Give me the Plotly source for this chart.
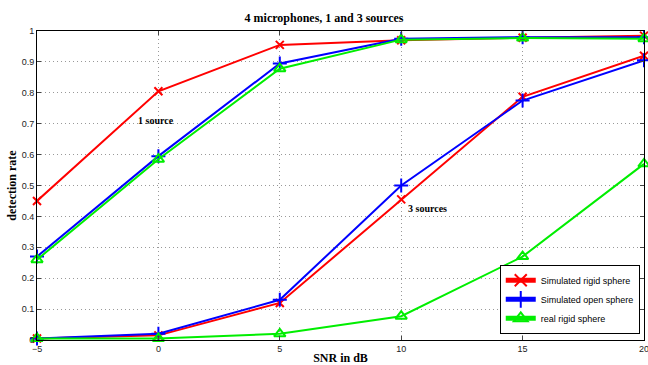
import plotly.graph_objects as go

snr = [-5, 0, 5, 10, 15, 20]
rigid_1src = [0.45, 0.805, 0.955, 0.97, 0.978, 0.985]
rigid_3src = [0.005, 0.015, 0.12, 0.455, 0.787, 0.92]
open_1src = [0.27, 0.595, 0.895, 0.975, 0.98, 0.98]
open_3src = [0.005, 0.02, 0.13, 0.50, 0.775, 0.905]
real_1src = [0.26, 0.585, 0.878, 0.972, 0.977, 0.975]
real_3src = [0.005, 0.005, 0.02, 0.077, 0.27, 0.57]

x_ticks = [-5, 0, 5, 10, 15, 20]
y_ticks = [0, 0.1, 0.2, 0.3, 0.4, 0.5, 0.6, 0.7, 0.8, 0.9, 1]
y_tick_labels = ["0", "0.1", "0.2", "0.3", "0.4", "0.5", "0.6", "0.7", "0.8", "0.9", "1"]

series = [
    ("Simulated rigid sphere", "#ff0000", "x-thin-open", rigid_1src, rigid_3src, 8),
    ("Simulated open sphere", "#0000ff", "cross-thin-open", open_1src, open_3src, 10),
    ("real rigid sphere", "#00ee00", "triangle-up-open", real_1src, real_3src, 10),
]

fig = go.Figure()
for name, color, sym, s1, s3, msize in series:
    for i, ys in enumerate([s1, s3]):
        fig.add_trace(go.Scatter(
            x=snr, y=ys, mode="lines+markers", name=name,
            legendgroup=name, showlegend=(i == 0),
            line=dict(color=color, width=2),
            marker=dict(symbol=sym, size=msize, color=color, line=dict(color=color, width=2)),
            cliponaxis=False,
        ))

serif = "Liberation Serif, Times New Roman, serif"
sans = "Liberation Sans, Arial, sans-serif"

fig.add_annotation(x=-0.1, y=0.71, text="<b>1 source</b>", showarrow=False,
                   font=dict(family=serif, size=10, color="black"))
fig.add_annotation(x=11.1, y=0.425, text="<b>3 sources</b>", showarrow=False,
                   font=dict(family=serif, size=10, color="black"))

fig.update_layout(
    width=648, height=365,
    margin=dict(l=37, r=4, t=31, b=25),
    paper_bgcolor="white", plot_bgcolor="white",
    title=dict(text="<b>4 microphones, 1 and 3 sources</b>", x=0.5, xanchor="center",
               y=1 - 18 / 365, yanchor="middle",
               font=dict(family=serif, size=12, color="black")),
    showlegend=True,
    legend=dict(x=0.993, y=0.02, xanchor="right", yanchor="bottom",
                bgcolor="white", bordercolor="black", borderwidth=1,
                font=dict(family=sans, size=9, color="black"),
                tracegroupgap=0, itemsizing="constant", itemwidth=30),
)
grid_dash = "1px,3px"
fig.update_xaxes(range=[-5, 20], tickvals=x_ticks, ticks="inside", ticklen=4,
                 showline=True, linecolor="black", linewidth=1, mirror="ticks",
                 showgrid=True, gridcolor="#999999", griddash=grid_dash, gridwidth=1,
                 zeroline=False, automargin=False, ticklabeloverflow="allow",
                 tickfont=dict(family=sans, size=9, color="#222222"),
                 title=dict(text="<b>SNR in dB</b>", standoff=3,
                            font=dict(family=serif, size=12, color="black")))
fig.update_yaxes(range=[0, 1], tickvals=y_ticks, ticktext=y_tick_labels, ticks="inside", ticklen=4,
                 showline=True, linecolor="black", linewidth=1, mirror="ticks",
                 showgrid=True, gridcolor="#999999", griddash=grid_dash, gridwidth=1,
                 zeroline=False, automargin=False, ticklabeloverflow="allow",
                 tickfont=dict(family=sans, size=9, color="#222222"),
                 title=dict(text="<b>detection rate</b>", standoff=2,
                            font=dict(family=serif, size=12, color="black")))

fig.write_html("out.html", config={"displayModeBar": False},
               post_script="document.body.style.margin='0px';")
